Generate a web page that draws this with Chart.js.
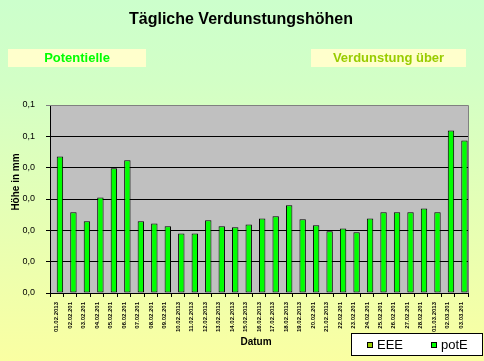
<!DOCTYPE html>
<html><head><meta charset="utf-8">
<script src="https://cdn.jsdelivr.net/npm/chart.js@4.4.1/dist/chart.umd.min.js"></script>
<style>
html,body{margin:0;padding:0;}
body{width:484px;height:361px;overflow:hidden;background:linear-gradient(to bottom,#CCFFCC 0%,#D2FFC6 22%,#FAFFA2 100%);}
#wrap{position:relative;width:484px;height:361px;}
canvas{display:block;}
</style></head><body>
<div id="wrap"><canvas id="c" width="484" height="361"></canvas></div>
<script>
const dates = ['01.02.2013','02.02.201','03.02.201','04.02.201','05.02.201','06.02.201','07.02.201','08.02.201','09.02.201','10.02.2013','11.02.2013','12.02.2013','13.02.2013','14.02.2013','15.02.2013','16.02.2013','17.02.2013','18.02.2013','19.02.2013','20.02.201','21.02.2013','22.02.201','23.02.201','24.02.201','25.02.201','26.02.201','27.02.201','28.02.201','01.03.2013','02.03.201','03.03.201'];
const eeeValues = [null,null,null,null,null,null,null,null,null,null,null,null,null,null,null,null,null,null,null,null,null,null,null,null,null,null,null,null,null,null,null];
const potEValues = [0.0436,0.0258,0.0229,0.0305,0.0398,0.0424,0.0229,0.0222,0.0213,0.0190,0.0190,0.0232,0.0213,0.0210,0.0219,0.0238,0.0245,0.0280,0.0235,0.0216,0.0197,0.0206,0.0194,0.0238,0.0258,0.0258,0.0258,0.0270,0.0258,0.0519,0.0487];
const yTickLabels = ['0,0','0,0','0,0','0,0','0,0','0,1','0,1'];
const seriesNames = ['EEE','potE'];
const chartTitle = 'Tägliche Verdunstungshöhen';
const boxLeftText = 'Potentielle';
const boxRightText = 'Verdunstung über';
const yAxisTitle = 'Höhe in mm';
const xAxisTitle = 'Datum';

const ARIAL = "Arial,'Liberation Sans',sans-serif";

const decor = {
  id: 'decor',
  beforeDraw(chart) {
    const {ctx, chartArea: a} = chart;
    ctx.save();
    ctx.fillStyle = '#C0C0C0';
    ctx.fillRect(a.left, a.top, a.right - a.left, a.bottom - a.top);
    ctx.restore();
  },
  afterDraw(chart) {
    const {ctx, chartArea: a} = chart;
    ctx.save();
    ctx.strokeStyle = '#808080';
    ctx.lineWidth = 1;
    ctx.beginPath();
    ctx.moveTo(a.left, a.top + 0.5);
    ctx.lineTo(a.right + 0.5, a.top + 0.5);
    ctx.lineTo(a.right + 0.5, a.bottom);
    ctx.stroke();
    ctx.fillStyle = '#000';
    ctx.textAlign = 'center';
    ctx.textBaseline = 'middle';
    ctx.font = 'bold 16px ' + ARIAL;
    ctx.fillText(chartTitle, 241, 20);
    ctx.fillStyle = '#FFFFCC';
    ctx.fillRect(8, 49, 138, 18);
    ctx.fillRect(311, 49, 155, 18);
    ctx.font = 'bold 13px ' + ARIAL;
    ctx.fillStyle = '#00FF00';
    ctx.fillText(boxLeftText, 77, 58.5);
    ctx.fillStyle = '#99CC00';
    ctx.fillText(boxRightText, 388.5, 58.5);
    ctx.fillStyle = '#000';
    ctx.font = 'bold 10px ' + ARIAL;
    ctx.fillText(xAxisTitle, 256, 342);
    ctx.save();
    ctx.translate(16, 182);
    ctx.rotate(-Math.PI / 2);
    ctx.font = 'bold 10px ' + ARIAL;
    ctx.fillText(yAxisTitle, 0, 0);
    ctx.restore();
    ctx.fillStyle = '#FFFFFF';
    ctx.fillRect(351, 333, 132, 23);
    ctx.strokeStyle = '#000';
    ctx.strokeRect(351.5, 333.5, 131, 22);
    ctx.font = '13px ' + ARIAL;
    ctx.textAlign = 'left';
    const xs = [367, 431];
    chart.data.datasets.forEach((ds, i) => {
      ctx.fillStyle = ds.backgroundColor;
      ctx.fillRect(xs[i], 342, 6, 6);
      ctx.strokeStyle = '#000';
      ctx.strokeRect(xs[i] + 0.5, 342.5, 5, 5);
      ctx.fillStyle = '#000';
      ctx.fillText(ds.label, xs[i] + 10, 345);
    });
    ctx.restore();
  }
};

new Chart(document.getElementById('c'), {
  type: 'bar',
  data: {
    labels: dates,
    datasets: [
      {label: seriesNames[0], data: eeeValues, backgroundColor: '#99CC00', borderColor: '#000', borderWidth: 1, borderSkipped: false},
      {label: seriesNames[1], data: potEValues, backgroundColor: '#00FF00', borderColor: '#000', borderWidth: 1, borderSkipped: false}
    ]
  },
  options: {
    responsive: false,
    animation: false,
    devicePixelRatio: 1,
    layout: {padding: {left: 0, right: 16, top: 105, bottom: 0}},
    datasets: {bar: {categoryPercentage: 0.95, barPercentage: 1}},
    plugins: {legend: {display: false}, title: {display: false}, tooltip: {enabled: false}},
    scales: {
      x: {
        afterFit(s) { s.height = 68; },
        grid: {display: true, drawOnChartArea: false, drawTicks: true, tickLength: 4, color: '#000', offset: true},
        border: {color: '#000', width: 1},
        ticks: {autoSkip: false, maxRotation: 90, minRotation: 90, padding: 5, color: '#000', font: {family: ARIAL, size: 6, weight: 'bold'}}
      },
      y: {
        min: 0, max: 0.06,
        afterFit(s) { s.width = 50; },
        grid: {color: (c) => c.index === 6 ? '#808080' : '#000', tickLength: 4, drawTicks: true},
        border: {color: '#000', width: 1},
        ticks: {stepSize: 0.01, padding: 11, color: '#000', font: {family: ARIAL, size: 9},
          callback: (v, i) => yTickLabels[i]}
      }
    }
  },
  plugins: [decor]
});
</script>
</body></html>
